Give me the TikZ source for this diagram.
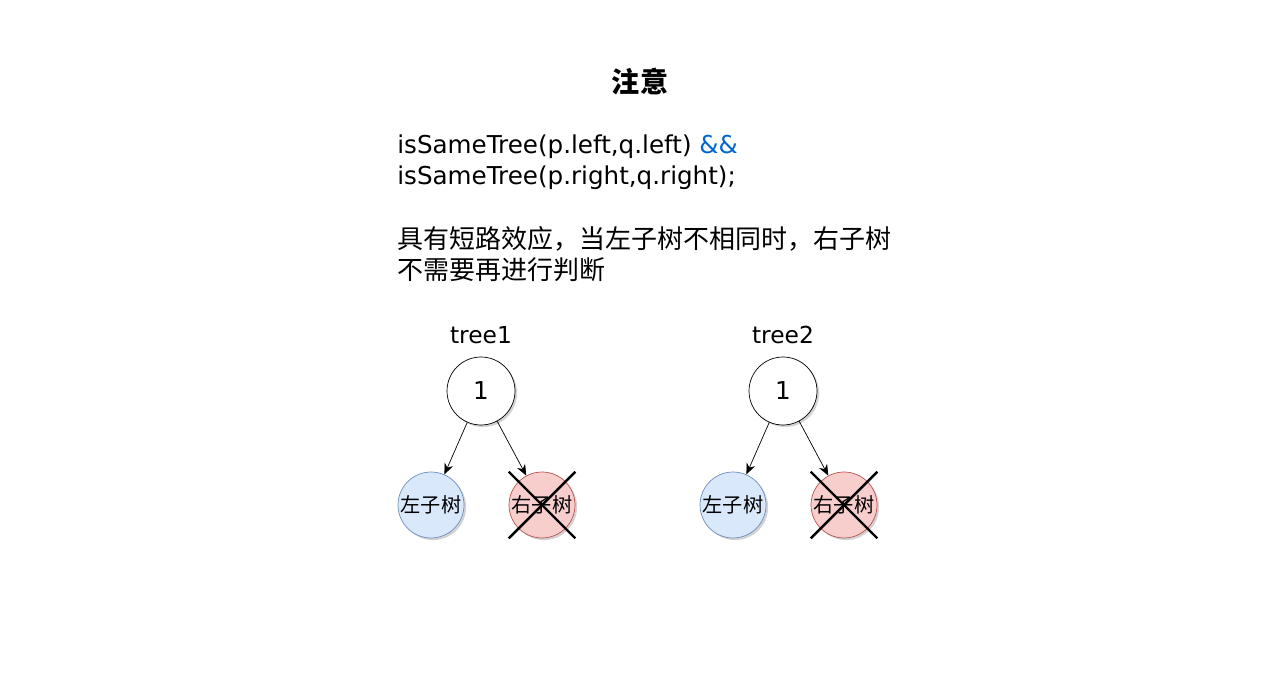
\documentclass[tikz,border=0pt]{standalone}
\usepackage{fontspec}
\setmainfont{Noto Sans CJK SC}
\newfontfamily\latinfont{DejaVu Sans}
\usetikzlibrary{arrows.meta,positioning,shadows}
\definecolor{andblue}{RGB}{0,102,204}
\definecolor{leftfill}{RGB}{218,232,252}
\definecolor{leftdraw}{RGB}{108,142,191}
\definecolor{rightfill}{RGB}{248,206,204}
\definecolor{rightdraw}{RGB}{184,84,80}
\tikzset{
  >={Stealth[length=2.2mm,width=1.8mm]},
  treenode/.style={circle,draw=#1,minimum size=34mm,inner sep=0pt,
    drop shadow={shadow xshift=1.2pt,shadow yshift=-1.2pt,opacity=0.35}},
  rootnode/.style={treenode=black,fill=white,minimum size=13.6mm,font=\latinfont\fontsize{14}{17}\selectfont},
  childnode/.style={treenode=#1draw,fill=#1fill,minimum size=13.2mm,font=\fontsize{11.5}{14}\selectfont},
  label text/.style={font=\latinfont\fontsize{13.3}{16}\selectfont},
  edge/.style={->,thin,draw=black},
  cross/.style={line width=1.4pt,draw=black},
}
\begin{document}
\begin{tikzpicture}[x=0.02cm,y=-0.02cm]
  \useasboundingbox (0,0) rectangle (1280,679);
  \node[font=\fontsize{16}{19}\selectfont\bfseries] (title) at (640,82) {注意};
  \node[anchor=west,align=left,font=\latinfont\fontsize{14}{17.6}\selectfont,inner sep=0pt] (code) at (397,162)
    {isSameTree(p.left,q.left) \textcolor{andblue}{\&\&}\\isSameTree(p.right,q.right);};
  \node[anchor=west,align=left,font=\fontsize{14.8}{17.3}\selectfont,inner sep=0pt] (note) at (397,254)
    {具有短路效应，当左子树不相同时，右子树\\不需要再进行判断};
  \foreach \n/\x in {1/481,2/783}
  {
    \node[label text] (t\n) at (\x,335) {tree\n};
    \node[rootnode] (r\n) at (\x,391) {1};
    \node[childnode=left] (l\n) at (\x-50,505) {左子树};
    \node[childnode=right] (rr\n) at (\x+61,505) {右子树};
    \draw[edge] (r\n) -- (l\n);
    \draw[edge] (r\n) -- (rr\n);
    \draw[cross] (rr\n.west |- rr\n.north) -- (rr\n.east |- rr\n.south);
    \draw[cross] (rr\n.east |- rr\n.north) -- (rr\n.west |- rr\n.south);
  }
\end{tikzpicture}
\end{document}
